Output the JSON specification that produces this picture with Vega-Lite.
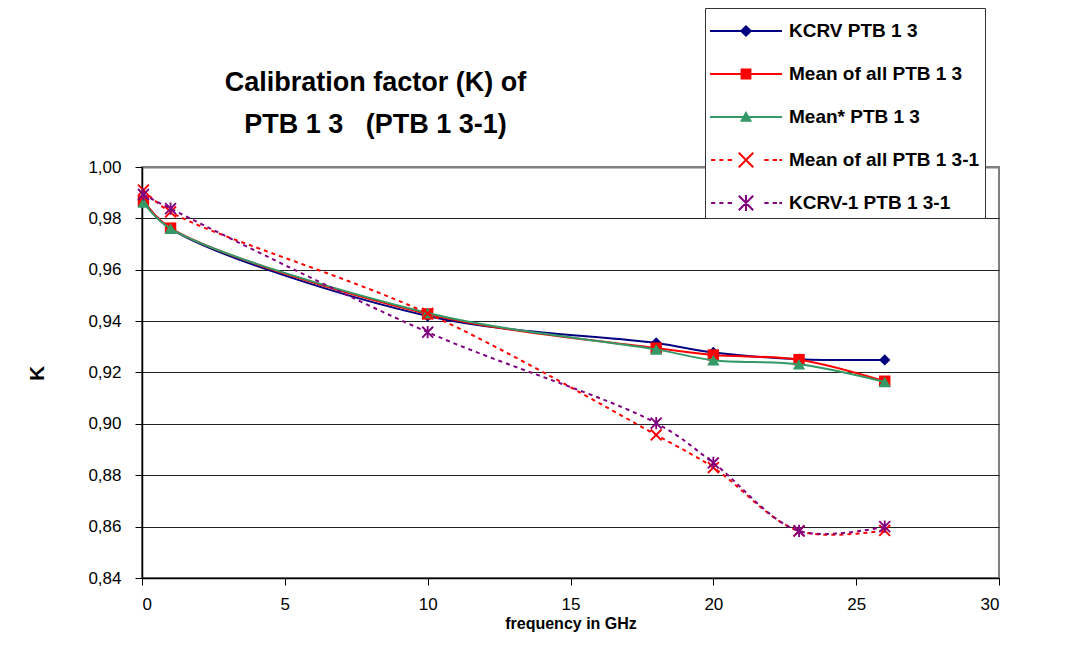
{
  "$schema": "https://vega.github.io/schema/vega-lite/v6.json",
  "width": 857,
  "height": 411,
  "autosize": "none",
  "padding": {"left": 142, "top": 167, "right": 85, "bottom": 81},
  "background": "white",
  "title": {
    "text": ["Calibration factor (K) of", "PTB 1 3\u00a0\u00a0\u00a0(PTB 1 3-1)"],
    "font": "Liberation Sans",
    "fontSize": 27,
    "fontWeight": "bold",
    "color": "black",
    "anchor": "middle",
    "frame": "group",
    "dx": -195,
    "dy": 150,
    "lineHeight": 42,
    "offset": 19
  },
  "data": {
    "values": [
      {"series": "KCRV PTB 1 3", "f": 0.05, "K": 0.987},
      {"series": "KCRV PTB 1 3", "f": 1, "K": 0.976},
      {"series": "KCRV PTB 1 3", "f": 10, "K": 0.942},
      {"series": "KCRV PTB 1 3", "f": 18, "K": 0.9315},
      {"series": "KCRV PTB 1 3", "f": 20, "K": 0.9278},
      {"series": "KCRV PTB 1 3", "f": 23, "K": 0.9252},
      {"series": "KCRV PTB 1 3", "f": 26, "K": 0.9249},
      {"series": "Mean of all PTB 1 3", "f": 0.05, "K": 0.9868},
      {"series": "Mean of all PTB 1 3", "f": 1, "K": 0.9762},
      {"series": "Mean of all PTB 1 3", "f": 10, "K": 0.9428},
      {"series": "Mean of all PTB 1 3", "f": 18, "K": 0.9295},
      {"series": "Mean of all PTB 1 3", "f": 20, "K": 0.9268},
      {"series": "Mean of all PTB 1 3", "f": 23, "K": 0.925},
      {"series": "Mean of all PTB 1 3", "f": 26, "K": 0.9166},
      {"series": "Mean* PTB 1 3", "f": 0.05, "K": 0.9862},
      {"series": "Mean* PTB 1 3", "f": 1, "K": 0.976},
      {"series": "Mean* PTB 1 3", "f": 10, "K": 0.9432},
      {"series": "Mean* PTB 1 3", "f": 18, "K": 0.929},
      {"series": "Mean* PTB 1 3", "f": 20, "K": 0.9248},
      {"series": "Mean* PTB 1 3", "f": 23, "K": 0.9232},
      {"series": "Mean* PTB 1 3", "f": 26, "K": 0.9163},
      {"series": "Mean of all PTB 1 3-1", "f": 0.05, "K": 0.991},
      {"series": "Mean of all PTB 1 3-1", "f": 1, "K": 0.9825},
      {"series": "Mean of all PTB 1 3-1", "f": 10, "K": 0.943},
      {"series": "Mean of all PTB 1 3-1", "f": 18, "K": 0.8957},
      {"series": "Mean of all PTB 1 3-1", "f": 20, "K": 0.883},
      {"series": "Mean of all PTB 1 3-1", "f": 23, "K": 0.8583},
      {"series": "Mean of all PTB 1 3-1", "f": 26, "K": 0.8585},
      {"series": "KCRV-1 PTB 1 3-1", "f": 0.05, "K": 0.9893},
      {"series": "KCRV-1 PTB 1 3-1", "f": 1, "K": 0.9838},
      {"series": "KCRV-1 PTB 1 3-1", "f": 10, "K": 0.9357},
      {"series": "KCRV-1 PTB 1 3-1", "f": 18, "K": 0.9003},
      {"series": "KCRV-1 PTB 1 3-1", "f": 20, "K": 0.8848},
      {"series": "KCRV-1 PTB 1 3-1", "f": 23, "K": 0.8583},
      {"series": "KCRV-1 PTB 1 3-1", "f": 26, "K": 0.86}
    ]
  },
  "encoding": {
    "x": {
      "field": "f",
      "type": "quantitative",
      "scale": {"domain": [0, 30], "nice": false, "zero": false},
      "axis": {
        "values": [0, 5, 10, 15, 20, 25, 30],
        "grid": false,
        "title": "frequency in GHz",
        "titleFont": "Liberation Sans",
        "titleFontSize": 16,
        "titleFontWeight": "bold",
        "titleColor": "black",
        "titlePadding": 3,
        "labelFont": "Liberation Sans",
        "labelFontSize": 17,
        "labelColor": "black",
        "labelPadding": 11,
        "tickSize": 7,
        "tickColor": "black",
        "domainColor": "black",
        "domainWidth": 1.5
      }
    },
    "y": {
      "field": "K",
      "type": "quantitative",
      "scale": {"domain": [0.84, 1.0], "nice": false, "zero": false},
      "axis": {
        "values": [0.84, 0.86, 0.88, 0.9, 0.92, 0.94, 0.96, 0.98, 1.0],
        "labelExpr": "replace(format(datum.value, '.2f'), '.', ',')",
        "grid": true,
        "gridColor": {"condition": {"test": "datum.value >= 0.999", "value": "#808080"}, "value": "#222222"},
        "gridWidth": {"condition": {"test": "datum.value >= 0.999", "value": 2}, "value": 1},
        "title": "K",
        "titleFont": "Liberation Sans",
        "titleFontSize": 21,
        "titleFontWeight": "bold",
        "titleColor": "black",
        "titleX": -95,
        "titleY": 206,
        "labelFont": "Liberation Sans",
        "labelFontSize": 17,
        "labelColor": "black",
        "labelPadding": 14,
        "tickSize": 7,
        "tickColor": "black",
        "domainColor": "black",
        "domainWidth": 1.5
      }
    }
  },
  "layer": [
    {
      "transform": [{"filter": {"field": "series", "equal": "KCRV PTB 1 3"}}],
      "mark": {"type": "line", "interpolate": "catmull-rom", "strokeWidth": 2, "color": "#000080"}
    },
    {
      "transform": [{"filter": {"field": "series", "equal": "KCRV PTB 1 3"}}],
      "mark": {"type": "point", "shape": "diamond", "size": 130, "filled": true, "opacity": 1, "color": "#000080"}
    },
    {
      "transform": [{"filter": {"field": "series", "equal": "Mean of all PTB 1 3"}}],
      "mark": {"type": "line", "interpolate": "catmull-rom", "strokeWidth": 2, "color": "#FF0000"}
    },
    {
      "transform": [{"filter": {"field": "series", "equal": "Mean of all PTB 1 3"}}],
      "mark": {"type": "point", "shape": "square", "size": 130, "filled": true, "opacity": 1, "color": "#FF0000"}
    },
    {
      "transform": [{"filter": {"field": "series", "equal": "Mean* PTB 1 3"}}],
      "mark": {"type": "line", "interpolate": "catmull-rom", "strokeWidth": 2, "color": "#339966"}
    },
    {
      "transform": [{"filter": {"field": "series", "equal": "Mean* PTB 1 3"}}],
      "mark": {"type": "point", "shape": "triangle-up", "size": 150, "filled": true, "opacity": 1, "color": "#339966"}
    },
    {
      "transform": [{"filter": {"field": "series", "equal": "Mean of all PTB 1 3-1"}}],
      "mark": {"type": "line", "interpolate": "catmull-rom", "strokeWidth": 2, "strokeDash": [4, 4], "color": "#FF0000"}
    },
    {
      "transform": [{"filter": {"field": "series", "equal": "Mean of all PTB 1 3-1"}}],
      "mark": {"type": "point", "shape": "M-1,-0.78L-0.78,-1L1,0.78L0.78,1Z M0.78,-1L1,-0.78L-0.78,1L-1,0.78Z", "size": 150, "filled": true, "opacity": 1, "color": "#FF0000"}
    },
    {
      "transform": [{"filter": {"field": "series", "equal": "KCRV-1 PTB 1 3-1"}}],
      "mark": {"type": "line", "interpolate": "catmull-rom", "strokeWidth": 2, "strokeDash": [4, 4], "color": "#800080"}
    },
    {
      "transform": [{"filter": {"field": "series", "equal": "KCRV-1 PTB 1 3-1"}}],
      "mark": {"type": "point", "shape": "M-1,-0.78L-0.78,-1L1,0.78L0.78,1Z M0.78,-1L1,-0.78L-0.78,1L-1,0.78Z M-0.15,-1H0.15V1H-0.15Z", "size": 150, "filled": true, "opacity": 1, "color": "#800080"}
    },
    {
      "mark": {"type": "point", "filled": true, "opacity": 0},
      "encoding": {
        "color": {
          "field": "series",
          "type": "nominal",
          "scale": {
            "domain": ["KCRV PTB 1 3", "Mean of all PTB 1 3", "Mean* PTB 1 3", "Mean of all PTB 1 3-1", "KCRV-1 PTB 1 3-1"],
            "range": ["#000080", "#FF0000", "#339966", "#FF0000", "#800080"]
          },
          "legend": {
            "title": null,
            "orient": "none",
            "legendX": 563,
            "legendY": -159,
            "symbolSize": 1296,
            "symbolOpacity": 1,
            "symbolStrokeWidth": 0,
            "labelFont": "Liberation Sans",
            "labelFontSize": 19,
            "labelFontWeight": "bold",
            "labelColor": "black",
            "labelOffset": 43,
            "labelLimit": 500,
            "padding": 5,
            "rowPadding": 15,
            "strokeColor": "#333333",
            "fillColor": "white"
          }
        },
        "shape": {
          "field": "series",
          "type": "nominal",
          "scale": {
            "domain": ["KCRV PTB 1 3", "Mean of all PTB 1 3", "Mean* PTB 1 3", "Mean of all PTB 1 3-1", "KCRV-1 PTB 1 3-1"],
            "range": [
              "M-1,-0.056H3V0.056H-1Z M1,-0.34L1.34,0L1,0.34L0.66,0Z",
              "M-1,-0.056H3V0.056H-1Z M0.7,-0.3H1.3V0.3H0.7Z",
              "M-1,-0.056H3V0.056H-1Z M1,-0.34L1.34,0.26L0.66,0.26Z",
              "M-0.94,-0.056H-0.71V0.056H-0.94Z M-0.48,-0.056H-0.26V0.056H-0.48Z M-0.02,-0.056H0.22V0.056H-0.02Z M2.02,-0.056H2.26V0.056H2.02Z M2.48,-0.056H2.72V0.056H2.48Z M2.85,-0.056H3V0.056H2.85Z M0.56,-0.36L0.64,-0.44L1.44,0.36L1.36,0.44Z M1.36,-0.44L1.44,-0.36L0.64,0.44L0.56,0.36Z",
              "M-0.94,-0.056H-0.71V0.056H-0.94Z M-0.48,-0.056H-0.26V0.056H-0.48Z M-0.02,-0.056H0.22V0.056H-0.02Z M2.02,-0.056H2.26V0.056H2.02Z M2.48,-0.056H2.72V0.056H2.48Z M2.85,-0.056H3V0.056H2.85Z M0.56,-0.36L0.64,-0.44L1.44,0.36L1.36,0.44Z M1.36,-0.44L1.44,-0.36L0.64,0.44L0.56,0.36Z M0.944,-0.44H1.056V0.44H0.944Z"
            ]
          },
          "legend": {
            "title": null,
            "orient": "none",
            "legendX": 563,
            "legendY": -159,
            "symbolSize": 1296,
            "symbolOpacity": 1,
            "symbolStrokeWidth": 0,
            "labelFont": "Liberation Sans",
            "labelFontSize": 19,
            "labelFontWeight": "bold",
            "labelColor": "black",
            "labelOffset": 43,
            "labelLimit": 500,
            "padding": 5,
            "rowPadding": 15,
            "strokeColor": "#333333",
            "fillColor": "white"
          }
        }
      }
    }
  ],
  "config": {
    "view": {"stroke": "#808080", "strokeWidth": 2},
    "font": "Liberation Sans"
  }
}
